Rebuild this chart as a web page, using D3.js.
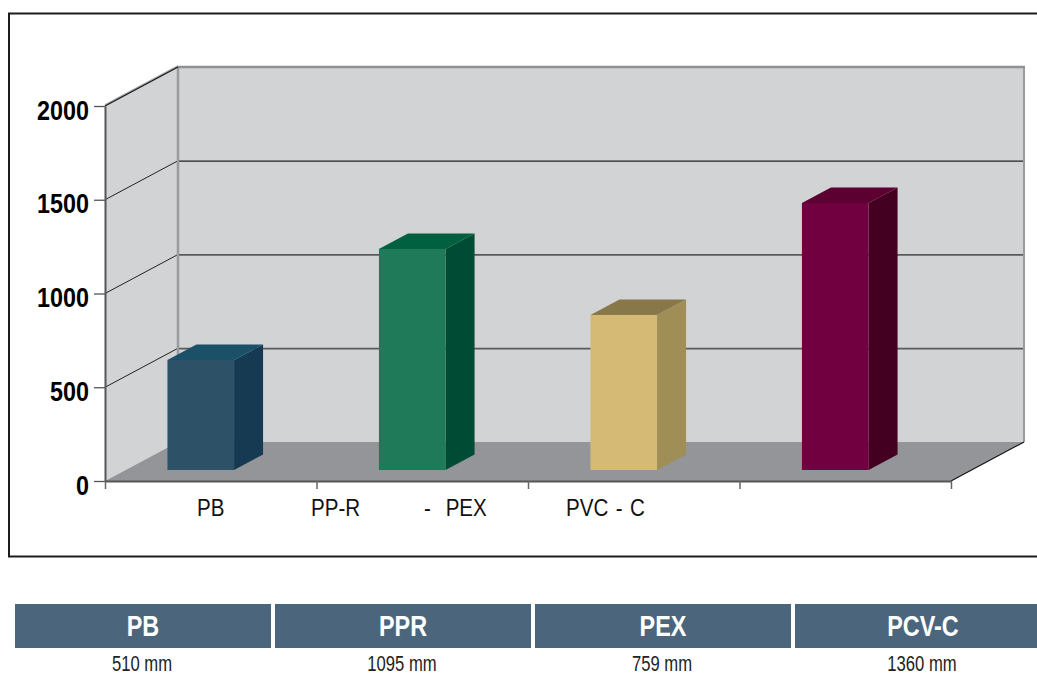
<!DOCTYPE html>
<html><head><meta charset="utf-8">
<script src="https://cdnjs.cloudflare.com/ajax/libs/d3/7.8.5/d3.min.js"></script>
<style>html,body{margin:0;padding:0;background:#fff;overflow:hidden}svg{display:block}
text{font-family:"Liberation Sans",sans-serif}</style></head><body>
<svg id="c" width="1037" height="678"></svg>
<script>
const categories = ["PB","PPR","PEX","PCV-C"];
const barValues = [587,1179,827,1424];
const tableValues = ["510 mm","1095 mm","759 mm","1360 mm"];
const axisLabels = ["PB","PP-R","-  PEX","PVC - C"];
const yTicks = [0,500,1000,1500,2000];
const frontColors = ["#2d5268","#1e7a58","#d4ba74","#710040"];
const topColors = ["#1b5069","#00603f","#887849","#5c0032"];
const sideColors = ["#163a52","#004b33","#a08e57","#430020"];

const svg = d3.select("#c");
svg.append("rect").attr("x",9).attr("y",13.5).attr("width",1040).attr("height",543)
  .attr("fill","#fff").attr("stroke","#1c1c1c").attr("stroke-width",2);

const L=105,R=951,DX=73,DY=-39;
const y = d3.scaleLinear().domain([0,2000]).range([481,106]);
const x = d3.scaleBand().domain(categories).range([L,R]);
const slot = d3.scaleLinear().domain([0,4]).range([L,R]);
const poly = p => p.map(q=>q.join(",")).join(" ");
const squeeze = (px,py,sx) => `translate(${px},${py}) scale(${sx},1)`;

const g = svg.append("g");
// walls
g.append("polygon").attr("points",poly([[L,y(0)],[L+DX,y(0)+DY],[L+DX,y(2000)+DY],[L,y(2000)]])).attr("fill","#d1d3d5");
g.append("rect").attr("x",L+DX).attr("y",y(2000)+DY).attr("width",R-L).attr("height",y(0)-y(2000)).attr("fill","#d1d3d5");
g.append("polygon").attr("points",poly([[L,y(0)],[R,y(0)],[R+DX,y(0)+DY],[L+DX,y(0)+DY]])).attr("fill","#939598");

// gridlines
const inner = yTicks.filter(v=>v>0&&v<2000);
g.selectAll(".gb").data(inner).join("line").attr("x1",L+DX).attr("x2",R+DX)
  .attr("y1",d=>y(d)+DY+0.4).attr("y2",d=>y(d)+DY+0.4)
  .attr("stroke",d=>d==1500?"#222":"#5a5a5a").attr("stroke-width",d=>d==1500?1.1:1.6);
g.selectAll(".gs").data(inner).join("line").attr("x1",L).attr("x2",L+DX)
  .attr("y1",d=>y(d)).attr("y2",d=>y(d)+DY).attr("stroke","#222").attr("stroke-width",1);

// wall edges
g.append("line").attr("x1",L+DX).attr("x2",L+DX).attr("y1",y(2000)+DY).attr("y2",y(0)+DY).attr("stroke","#999b9d").attr("stroke-width",2.5);
g.append("line").attr("x1",R+DX).attr("x2",R+DX).attr("y1",y(2000)+DY).attr("y2",y(0)+DY).attr("stroke","#999b9d").attr("stroke-width",2);
g.append("line").attr("x1",L+DX-1).attr("x2",R+DX+1).attr("y1",y(2000)+DY).attr("y2",y(2000)+DY).attr("stroke","#8f9193").attr("stroke-width",2.4);
g.append("line").attr("x1",L).attr("x2",L+DX).attr("y1",y(2000)-1.2).attr("y2",y(2000)+DY-1.2).attr("stroke","#a0a2a4").attr("stroke-width",1.5);
g.append("line").attr("x1",L).attr("x2",L+DX).attr("y1",y(2000)).attr("y2",y(2000)+DY).attr("stroke","#111").attr("stroke-width",1.1);
g.append("line").attr("x1",R).attr("x2",R+DX).attr("y1",y(0)).attr("y2",y(0)+DY).attr("stroke","#111").attr("stroke-width",1.1);

// bars
const bw = x.bandwidth()*0.315, barShift=-10, lift=11, bdx=29, bdy=-15.5;
const bars = g.selectAll(".bar").data(categories).join("g");
const bx = c => x(c)+x.bandwidth()/2+barShift-bw/2;
const by = v => y(v)-lift;
bars.append("polygon").attr("fill",(c,i)=>sideColors[i]).attr("points",(c,i)=>poly([
  [bx(c)+bw,by(barValues[i])],[bx(c)+bw+bdx,by(barValues[i])+bdy],[bx(c)+bw+bdx,by(0)+bdy],[bx(c)+bw,by(0)]]));
bars.append("polygon").attr("fill",(c,i)=>topColors[i]).attr("points",(c,i)=>poly([
  [bx(c),by(barValues[i])],[bx(c)+bdx,by(barValues[i])+bdy],[bx(c)+bw+bdx,by(barValues[i])+bdy],[bx(c)+bw,by(barValues[i])]]));
bars.append("rect").attr("fill",(c,i)=>frontColors[i]).attr("x",bx).attr("width",bw)
  .attr("y",(c,i)=>by(barValues[i])).attr("height",(c,i)=>by(0)-by(barValues[i]));

// axes
const yAxis = svg.append("g").attr("transform",`translate(${L},0)`)
  .call(d3.axisLeft(y).tickValues(yTicks).tickSize(11).tickSizeOuter(0).tickFormat(d3.format("d")));
yAxis.select(".domain").attr("stroke","#555").attr("stroke-width",2);
yAxis.selectAll(".tick line").attr("stroke","#555").attr("stroke-width",1.3);
yAxis.selectAll("text").attr("x",0).attr("dy",0).attr("fill","#000")
  .attr("font-family",'"Liberation Sans"').attr("font-weight","bold").attr("font-size",27)
  .attr("text-anchor","end").attr("transform",squeeze(-16,13,0.865));

const xAxis = svg.append("g").attr("transform",`translate(0,${y(0)})`)
  .call(d3.axisBottom(slot).tickValues(d3.range(0,5)).tickSize(8).tickSizeOuter(0).tickFormat(""));
xAxis.select(".domain").attr("stroke","#555").attr("stroke-width",2);
xAxis.selectAll(".tick line").attr("stroke","#666").attr("stroke-width",1.5);

// x labels, placed as in the source (not centred on the slots)
const labelLeft = [197,311,424,566];
svg.selectAll(".xl").data(axisLabels).join("text").style("white-space","pre").style("word-spacing","2px")
  .attr("transform",(d,i)=>squeeze(labelLeft[i],516,0.84))
  .attr("font-size",24.5).attr("fill","#111").text(d=>d);

// table
const col = d3.scaleBand().domain(categories).range([15,1055]);
const cx = c => col(c)+(col.bandwidth()-4)/2;
const t = svg.append("g");
t.selectAll("rect").data(categories).join("rect").attr("x",c=>col(c)).attr("y",604)
  .attr("width",col.bandwidth()-4).attr("height",44).attr("fill","#4b667c");
t.selectAll(".h").data(categories).join("text").attr("transform",c=>squeeze(cx(c),636,0.78))
  .attr("text-anchor","middle").attr("font-weight","bold").attr("font-size",30).attr("fill","#fff").text(c=>c);
t.selectAll(".v").data(tableValues).join("text").attr("transform",(d,i)=>squeeze(cx(categories[i])-1,671,0.74))
  .attr("text-anchor","middle").attr("font-size",22.5).attr("fill","#222").text(d=>d);
</script></body></html>
